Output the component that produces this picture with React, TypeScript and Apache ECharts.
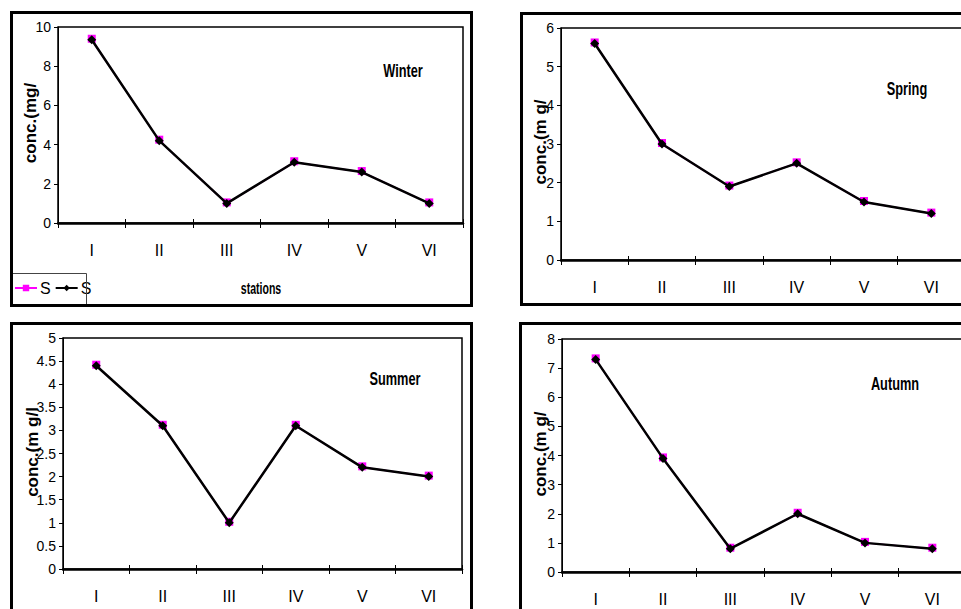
import React, { useEffect, useRef } from "react";
import * as echarts from "echarts";

const stations = ["I", "II", "III", "IV", "V", "VI"];
const winter = [9.35, 4.2, 1.0, 3.1, 2.6, 1.0];
const spring = [5.6, 3.0, 1.9, 2.5, 1.5, 1.2];
const summer = [4.4, 3.1, 1.0, 3.1, 2.2, 2.0];
const autumn = [7.3, 3.9, 0.8, 2.0, 1.0, 0.8];
const seasonNames = ["Winter", "Spring", "Summer", "Autumn"];
const yTitles = ["conc.(mg/", "conc.(m g/", "conc.(m g/l", "conc.(m g/"];
const yMax = [10, 6, 5, 8];
const yStep = [2, 1, 0.5, 1];

const NARROW = '"Liberation Sans Narrow", "Arial Narrow", "Liberation Sans", Arial, sans-serif';
const SANS = '"Liberation Sans", Arial, sans-serif';

export default function App() {
  const ref = useRef<HTMLDivElement>(null);
  useEffect(() => {
    if (!ref.current) return;
    const chart = echarts.init(ref.current, undefined, { renderer: "svg" });
    const data = [winter, spring, summer, autumn];
    const grids = [
      { left: 58, top: 27, width: 405, height: 196 },
      { left: 561, top: 28, width: 404, height: 232 },
      { left: 63, top: 338, width: 399, height: 231 },
      { left: 562, top: 339, width: 404, height: 233 },
    ];
    const titlePos = [
      [403, 71],
      [907, 89],
      [395, 379],
      [895, 384],
    ];
    const yTitlePos = [
      [30, 123],
      [540, 142],
      [32, 452],
      [540, 454],
    ];
    const panels = [
      { x: 11.5, y: 12.5, w: 460, h: 293 },
      { x: 521.5, y: 13.5, w: 460, h: 291 },
      { x: 11.5, y: 323.5, w: 460, h: 300 },
      { x: 520.5, y: 323.5, w: 460, h: 300 },
    ];

    const xAxes: any[] = [];
    const yAxes: any[] = [];
    const series: any[] = [];
    grids.forEach((g, i) => {
      xAxes.push({
        type: "category",
        gridIndex: i,
        position: "bottom",
        data: stations,
        boundaryGap: true,
        axisLine: { show: true, lineStyle: { color: "#000", width: 2.5 } },
        axisTick: { show: true, inside: false, length: 5, lineStyle: { color: "#000", width: 1 } },
        axisLabel: { color: "#000", fontSize: 16, fontFamily: NARROW, margin: 19 },
        splitLine: { show: false },
      });
      xAxes.push({
        type: "category",
        gridIndex: i,
        position: "bottom",
        data: stations,
        boundaryGap: true,
        axisLine: { show: false },
        axisTick: { show: true, inside: true, length: 4, lineStyle: { color: "#000", width: 1 } },
        axisLabel: { show: false },
        splitLine: { show: false },
      });
      yAxes.push({
        type: "value",
        gridIndex: i,
        min: 0,
        max: yMax[i],
        interval: yStep[i],
        axisLine: { show: true, lineStyle: { color: "#000", width: 1 } },
        axisTick: { show: true, length: 4, lineStyle: { color: "#000", width: 1 } },
        axisLabel: { color: "#000", fontSize: 14, fontFamily: NARROW, margin: 7 },
        splitLine: { show: false },
      });
      series.push({
        type: "line",
        name: "S1",
        xAxisIndex: i * 2,
        yAxisIndex: i,
        data: data[i],
        symbol: "rect",
        symbolSize: 8,
        symbolOffset: [0, -1],
        itemStyle: { color: "#ff00ff" },
        lineStyle: { color: "#ff00ff", width: 1.5 },
        z: 2,
      });
      series.push({
        type: "line",
        name: "S2",
        xAxisIndex: i * 2,
        yAxisIndex: i,
        data: data[i],
        symbol: "diamond",
        symbolSize: 9,
        itemStyle: { color: "#000" },
        lineStyle: { color: "#000", width: 2.5 },
        z: 3,
      });
    });

    const graphics: any[] = [];
    panels.forEach((p) => {
      graphics.push({
        type: "rect",
        shape: { x: p.x, y: p.y, width: p.w, height: p.h },
        style: { fill: "none", stroke: "#000", lineWidth: 3 },
        z: 20,
        silent: true,
      });
    });
    graphics.push({
      type: "rect",
      shape: { x: 11.5, y: 273.5, width: 75, height: 32 },
      style: { fill: "none", stroke: "#444", lineWidth: 1 },
      z: 10,
      silent: true,
    });
    seasonNames.forEach((s, i) => {
      graphics.push({
        type: "text",
        x: titlePos[i][0],
        y: titlePos[i][1],
        scaleX: 0.71,
        style: {
          text: s,
          font: "bold 18px " + SANS,
          fill: "#000",
          textAlign: "center",
          textVerticalAlign: "middle",
        },
        z: 10,
      });
      graphics.push({
        type: "text",
        x: yTitlePos[i][0],
        y: yTitlePos[i][1],
        rotation: Math.PI / 2,
        style: {
          text: yTitles[i],
          font: "bold 17px " + SANS,
          fill: "#000",
          textAlign: "center",
          textVerticalAlign: "middle",
        },
        z: 10,
      });
    });
    graphics.push({
      type: "text",
      x: 261,
      y: 289,
      scaleX: 0.66,
      style: {
        text: "stations",
        font: "bold 16px " + SANS,
        fill: "#000",
        textAlign: "center",
        textVerticalAlign: "middle",
      },
      z: 10,
    });

    chart.setOption({
      animation: false,
      backgroundColor: "#fff",
      grid: grids.map((g) => ({
        ...g,
        show: true,
        backgroundColor: "transparent",
        borderColor: "#000",
        borderWidth: 1.5,
        containLabel: false,
        outerBoundsMode: "none",
      })),
      xAxis: xAxes,
      yAxis: yAxes,
      legend: {
        show: true,
        left: 14,
        top: 280,
        orient: "horizontal",
        itemWidth: 22,
        itemHeight: 8,
        itemGap: 4,
        padding: 0,
        data: ["S1", "S2"],
        formatter: () => "S",
        textStyle: { color: "#000", fontSize: 16, fontFamily: NARROW, padding: [0, 0, 0, -2] },
        selectedMode: false,
      },
      graphic: graphics,
      series,
    });
    return () => chart.dispose();
  }, []);
  return (
    <div
      ref={ref}
      style={{ position: "absolute", left: 0, top: 0, width: 961, height: 609 }}
    />
  );
}
